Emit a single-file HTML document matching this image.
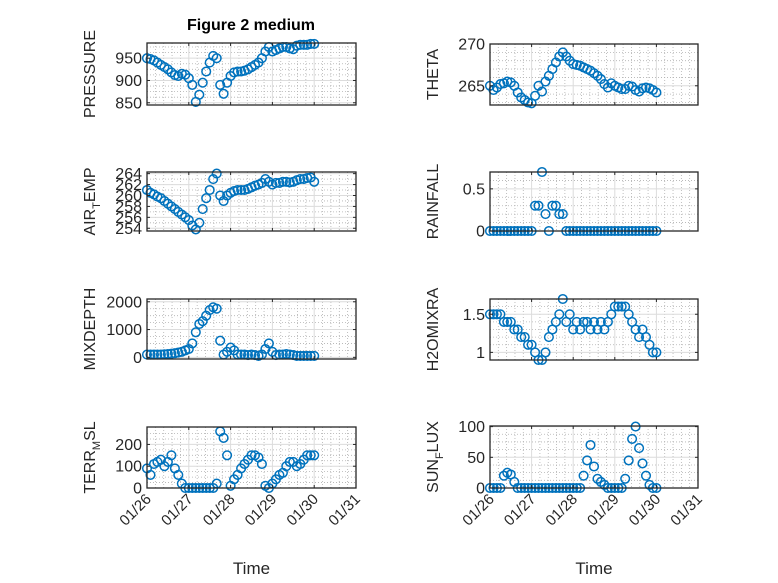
<!DOCTYPE html>
<html><head><meta charset="utf-8"><style>
body{margin:0;background:#fff}
svg{display:block;font-family:"Liberation Sans","DejaVu Sans",sans-serif}
</style></head><body>
<svg id="fig" width="778" height="583" viewBox="0 0 778 583" xmlns="http://www.w3.org/2000/svg">
<rect width="778" height="583" fill="#fff"/>
<text x="251" y="30" text-anchor="middle" font-size="16" font-weight="bold" fill="#000">Figure 2 medium</text>
</svg>
<script>
// shared time axis: every 2 hours from 01/26 (day 0) to 01/30 (day 4)
const dayLabels = ["01/26","01/27","01/28","01/29","01/30","01/31"];
const pressure = [950,948,945,940,935,930,925,918,912,910,915,913, 905,890,852,868,895,920,940,955,950,890,870,895, 910,918,920,920,922,925,930,935,940,950,965,975, 965,968,972,975,975,972,970,978,980,980,980,982, 982];
const airTemp = [261,260.5,260.2,259.8,259.5,259,258.5,258,257.5,257,256.5,256, 255.5,254.5,253.8,255,257.5,259.5,261,263,264,260,259,260, 260.5,260.8,261,261,261,261.2,261.5,261.8,262,262.3,263,262.5, 262,262.3,262.3,262.5,262.5,262.4,262.5,262.8,263,263,263.2,263.3, 262.5];
const mixDepth = [100,100,100,100,100,110,120,130,150,170,200,250, 300,500,900,1200,1300,1500,1700,1800,1750,600,100,200, 350,250,100,100,100,80,100,80,50,100,300,500, 200,80,100,100,120,100,80,50,50,50,50,50, 50];
const terrMsl = [90,60,110,120,130,100,120,150,90,60,20,0, 0,0,0,0,0,0,0,0,20,260,230,150, 10,40,60,90,110,130,150,150,140,110,10,0, 20,40,60,70,100,120,120,100,110,130,150,150, 150];
const theta = [265,264.5,264.8,265.2,265.3,265.5,265.4,265,264.2,263.6,263.3,263, 262.9,263.8,265,264.3,265.5,266.2,267,267.8,268.5,269,268.5,268, 267.6,267.5,267.4,267.2,267,266.8,266.5,266.2,265.8,265.2,264.8,265.3, 265,264.8,264.6,264.6,265,264.9,264.5,264.3,264.7,264.8,264.7,264.5, 264.2];
const rainfall = [0,0,0,0,0,0,0,0,0,0,0,0, 0,0.3,0.3,0.7,0.2,0,0.3,0.3,0.2,0.2,0,0, 0,0,0,0,0,0,0,0,0,0,0,0, 0,0,0,0,0,0,0,0,0,0,0,0, 0];
const h2oMix = [1.5,1.5,1.5,1.5,1.4,1.4,1.4,1.3,1.3,1.2,1.2,1.1, 1.1,1.0,0.9,0.9,1.0,1.2,1.3,1.4,1.5,1.7,1.4,1.5, 1.3,1.4,1.3,1.4,1.4,1.3,1.4,1.3,1.4,1.3,1.4,1.5, 1.6,1.6,1.6,1.6,1.5,1.4,1.3,1.2,1.3,1.2,1.1,1.0, 1.0];
const sunFlux = [0,0,0,0,20,25,22,10,0,0,0,0, 0,0,0,0,0,0,0,0,0,0,0,0, 0,0,0,20,45,70,35,15,10,5,0,0, 0,0,0,15,45,80,100,65,40,20,5,0, 0];

const svg = document.getElementById('fig');
const NS = 'http://www.w3.org/2000/svg';
function mk(tag, attrs, parent){const e=document.createElementNS(NS,tag);for(const k in attrs)e.setAttribute(k,attrs[k]);(parent||svg).appendChild(e);return e;}

const panels = [
 {key:'pressure', data:pressure, x0:147,x1:356,y0:43,y1:105, ymin:845, ymax:984, ticks:[850,900,950], minor:[862.5,875,887.5,912.5,925,937.5,962.5,975], label:['PRESSURE'], xt:false},
 {key:'theta', data:theta, x0:490,x1:698,y0:44,y1:105, ymin:262.7, ymax:270, ticks:[265,270], minor:[263,264,266,267,268,269], label:['THETA'], xt:false},
 {key:'air-temp', data:airTemp, x0:147,x1:356,y0:172,y1:231, ymin:253.5, ymax:264.3, ticks:[254,256,258,260,262,264], minor:[255,257,259,261,263], label:['AIR','T','EMP'], xt:false},
 {key:'rainfall', data:rainfall, x0:490,x1:698,y0:172,y1:231, ymin:0, ymax:0.7, ticks:[0,0.5], minor:[0.1,0.2,0.3,0.4,0.6], label:['RAINFALL'], xt:false},
 {key:'mixdepth', data:mixDepth, x0:147,x1:356,y0:299,y1:359, ymin:-60, ymax:2100, ticks:[0,1000,2000], minor:[250,500,750,1250,1500,1750], label:['MIXDEPTH'], xt:false},
 {key:'h2omixra', data:h2oMix, x0:490,x1:698,y0:299,y1:360, ymin:0.9, ymax:1.7, ticks:[1,1.5], minor:[1.1,1.2,1.3,1.4,1.6], label:['H2OMIXRA'], xt:false},
 {key:'terr-msl', data:terrMsl, x0:147,x1:356,y0:427,y1:488, ymin:0, ymax:280, ticks:[0,100,200], minor:[25,50,75,125,150,175,225,250], label:['TERR','M','SL'], xt:true},
 {key:'sun-flux', data:sunFlux, x0:490,x1:698,y0:426,y1:488, ymin:0, ymax:101, ticks:[0,50,100], minor:[12.5,25,37.5,62.5,75,87.5], label:['SUN','F','LUX'], xt:true},
];

panels.forEach(p=>{
  const g = mk('g',{});
  
  
  const nd = dayLabels.length-1;
  const xs = d => p.x0 + (p.x1-p.x0)*d/nd;
  const ys = v => p.y1 - (p.y1-p.y0)*(v-p.ymin)/(p.ymax-p.ymin);
  mk('rect',{x:p.x0,y:p.y0,width:p.x1-p.x0,height:p.y1-p.y0,fill:'#fff'},g);
  for(let d=0; d<nd; d++) for(let k=1;k<5;k++){
    const x=xs(d+k/5);
    mk('line',{x1:x,x2:x,y1:p.y0,y2:p.y1,stroke:'#b0b0b0','stroke-width':0.8,'stroke-dasharray':'1 2'},g);
  }
  p.minor.forEach(v=>{const y=ys(v);mk('line',{x1:p.x0,x2:p.x1,y1:y,y2:y,stroke:'#b0b0b0','stroke-width':0.8,'stroke-dasharray':'1 2'},g);});
  for(let d=1; d<nd; d++){const x=xs(d);mk('line',{x1:x,x2:x,y1:p.y0,y2:p.y1,stroke:'#dcdcdc','stroke-width':1},g);}
  p.ticks.forEach(v=>{const y=ys(v);mk('line',{x1:p.x0,x2:p.x1,y1:y,y2:y,stroke:'#dcdcdc','stroke-width':1},g);});
  p.data.forEach((v,i)=>{
    const c = mk('circle',{cx:xs(i/12).toFixed(1),cy:ys(v).toFixed(1),r:4.3,fill:'none',stroke:'#0072BD','stroke-width':1.5},g);
    
    
  });
  mk('rect',{x:p.x0,y:p.y0,width:p.x1-p.x0,height:p.y1-p.y0,fill:'none',stroke:'#262626','stroke-width':1.3},g);
  for(let d=0; d<=nd; d++){const x=xs(d);
    mk('line',{x1:x,x2:x,y1:p.y1,y2:p.y1-3,stroke:'#262626'},g);
    mk('line',{x1:x,x2:x,y1:p.y0,y2:p.y0+3,stroke:'#262626'},g);
    if(p.xt){
      const t=mk('text',{x:x+5,y:p.y1+12,'text-anchor':'end','font-size':15,fill:'#262626',transform:`rotate(-45 ${x+5} ${p.y1+12})`},g);
      t.textContent=dayLabels[d];
      
      
    }
  }
  p.ticks.forEach(v=>{const y=ys(v);
    mk('line',{x1:p.x0,x2:p.x0+3,y1:y,y2:y,stroke:'#262626'},g);
    mk('line',{x1:p.x1,x2:p.x1-3,y1:y,y2:y,stroke:'#262626'},g);
    const t=mk('text',{x:p.x0-5,y:y+5.5,'text-anchor':'end','font-size':16,fill:'#262626'},g);
    t.textContent=String(v);
    
    
  });
  const lx = p.x0-52, ly=(p.y0+p.y1)/2;
  const yl = mk('text',{x:lx,y:ly,'text-anchor':'middle','font-size':16,fill:'#262626',transform:`rotate(-90 ${lx} ${ly})`},g);
  
  
  if(p.label.length===1) yl.textContent=p.label[0];
  else{
    const a=mk('tspan',{},yl);a.textContent=p.label[0];
    const b=mk('tspan',{dy:5,'font-size':11},yl);b.textContent=p.label[1];
    const c=mk('tspan',{dy:-5},yl);c.textContent=p.label[2];
  }
  if(p.xt){
    const xl=mk('text',{x:(p.x0+p.x1)/2,y:574,'text-anchor':'middle','font-size':17,fill:'#262626'},g);
    xl.textContent='Time';
    
    
  }
});
</script>
</body></html>
